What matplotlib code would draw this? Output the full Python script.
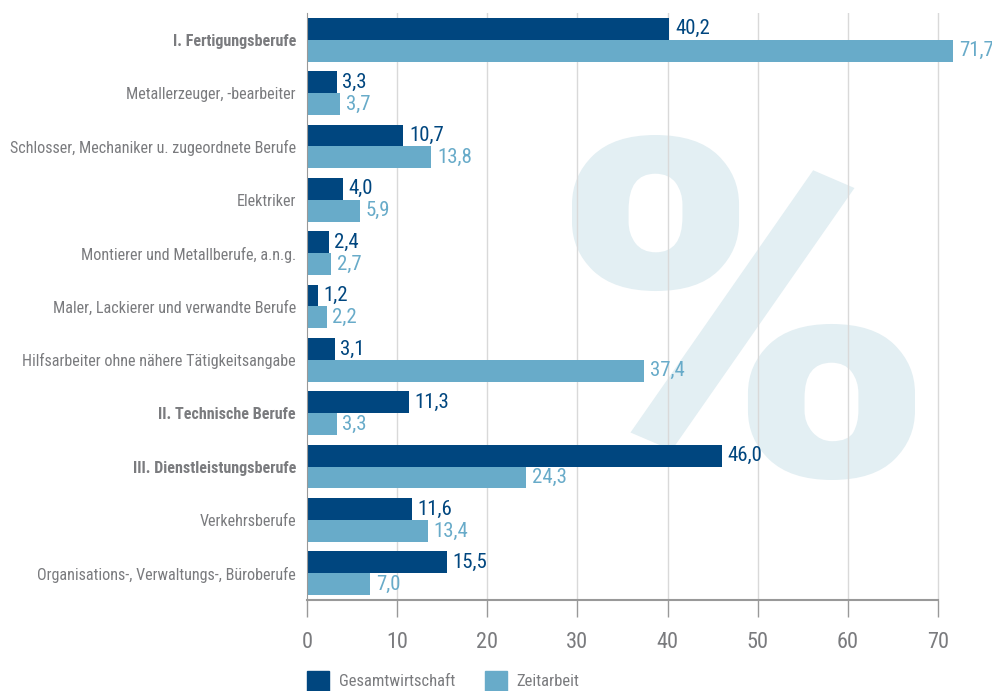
import matplotlib.pyplot as plt
from matplotlib.patches import Patch, PathPatch
from matplotlib.textpath import TextPath
from matplotlib.font_manager import FontProperties
from matplotlib.transforms import Affine2D
import numpy as np

categories = [
    "I. Fertigungsberufe",
    "Metallerzeuger, -bearbeiter",
    "Schlosser, Mechaniker u. zugeordnete Berufe",
    "Elektriker",
    "Montierer und Metallberufe, a.n.g.",
    "Maler, Lackierer und verwandte Berufe",
    "Hilfsarbeiter ohne nähere Tätigkeitsangabe",
    "II. Technische Berufe",
    "III. Dienstleistungsberufe",
    "Verkehrsberufe",
    "Organisations-, Verwaltungs-, Büroberufe",
]
bold_rows = ["I. Fertigungsberufe", "II. Technische Berufe", "III. Dienstleistungsberufe"]
gesamt = [40.2, 3.3, 10.7, 4.0, 2.4, 1.2, 3.1, 11.3, 46.0, 11.6, 15.5]
zeit = [71.7, 3.7, 13.8, 5.9, 2.7, 2.2, 37.4, 3.3, 24.3, 13.4, 7.0]
xticks = [0, 10, 20, 30, 40, 50, 60, 70]

dark = "#00467f"
light = "#68abc9"
gray = "#7a7b7e"
font = ["Roboto Condensed", "Fira Sans Condensed", "PT Sans Narrow", "DejaVu Sans"]

plt.rcParams['font.family'] = font

W, H = 992, 691
fig = plt.figure(figsize=(W / 100, H / 100), dpi=100)
ax = fig.add_axes([307 / W, 1 - 600 / H, 1 - 307 / W, (600 - 13) / H])

y = np.arange(len(categories))
h = 0.41
ax.barh(y - h / 2, gesamt, height=h, color=dark, zorder=2)
ax.barh(y + h / 2, zeit, height=h, color=light, zorder=2)

for yi, g, z in zip(y, gesamt, zeit):
    ax.annotate(f"{g:.1f}".replace(".", ","), (g, yi - h / 2), xytext=(4, 0),
                textcoords="offset points", va="center", ha="left",
                fontsize=15, color=dark)
    ax.annotate(f"{z:.1f}".replace(".", ","), (z, yi + h / 2), xytext=(4, 0),
                textcoords="offset points", va="center", ha="left",
                fontsize=15, color=light)

ax.set_ylim(len(categories) - 0.5, -0.5)
ax.set_xlim(0, 76)
ax.set_yticks(y)
ax.set_yticklabels(categories)
for lab in ax.get_yticklabels():
    lab.set_color(gray)
    lab.set_fontsize(11.6)
    if lab.get_text() in bold_rows:
        lab.set_fontweight("bold")
ax.tick_params(axis="y", length=0, pad=8)

ax.set_xticks(xticks)
ax.tick_params(axis="x", length=12, color="#999999", width=1, labelsize=16,
               labelcolor=gray, pad=11)
for t in xticks[1:]:
    ax.axvline(t, color="#d9d9d9", lw=1, zorder=1)

for s in ["top", "right"]:
    ax.spines[s].set_visible(False)
ax.spines["left"].set_color("#999999")
ax.spines["bottom"].set_color("#999999")
ax.spines["bottom"].set_linewidth(1.5)
ax.spines["bottom"].set_bounds(0, 70)

# watermark "%" stretched into its box
tp = TextPath((0, 0), "%", size=100,
              prop=FontProperties(family=font, weight="bold"))
ext = tp.get_extents()
x0, x1, y0, y1 = 572 / W, 915 / W, 1 - 480 / H, 1 - 135 / H
tr = (Affine2D().translate(-ext.x0, -ext.y0)
      .scale((x1 - x0) / ext.width, (y1 - y0) / ext.height)
      .translate(x0, y0))
ax.add_patch(PathPatch(tr.transform_path(tp), transform=fig.transFigure,
                       facecolor="#e3eff3", edgecolor="none", zorder=0,
                       clip_on=False))

handles = [Patch(color=dark, label="Gesamtwirtschaft"),
           Patch(color=light, label="Zeitarbeit")]
fig.legend(handles=handles, loc="lower left", bbox_to_anchor=(292 / W, -0.021),
           ncol=2, frameon=False, handlelength=1.3, handleheight=1.4,
           columnspacing=1.8, handletextpad=0.6, fontsize=12, labelcolor=gray)

fig.savefig("out.png", dpi=100)
